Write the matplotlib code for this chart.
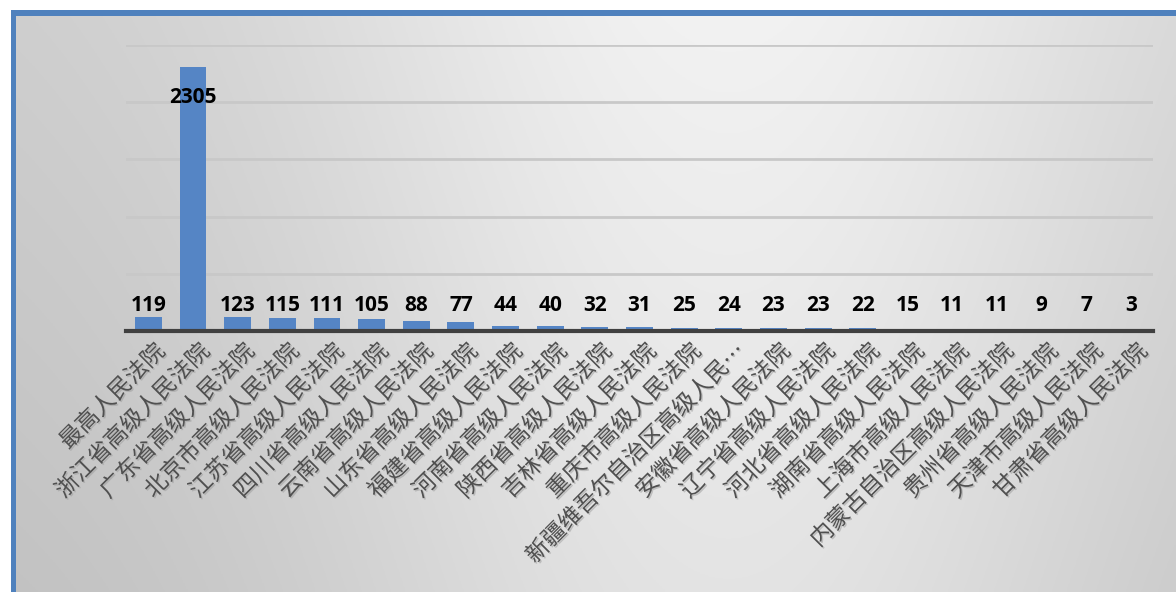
import numpy as np
import matplotlib
matplotlib.use("Agg")
import matplotlib.pyplot as plt
import matplotlib.patheffects as pe
from matplotlib.patches import Rectangle

# ── données ──────────────────────────────
courts = ["最高人民法院", "浙江省高级人民法院", "广东省高级人民法院", "北京市高级人民法院",
          "江苏省高级人民法院", "四川省高级人民法院", "云南省高级人民法院", "山东省高级人民法院",
          "福建省高级人民法院", "河南省高级人民法院", "陕西省高级人民法院", "吉林省高级人民法院",
          "重庆市高级人民法院", "新疆维吾尔自治区高级人民…", "安徽省高级人民法院", "辽宁省高级人民法院",
          "河北省高级人民法院", "湖南省高级人民法院", "上海市高级人民法院", "内蒙古自治区高级人民法院",
          "贵州省高级人民法院", "天津市高级人民法院", "甘肃省高级人民法院"]
counts = [119, 2305, 123, 115, 111, 105, 88, 77, 44, 40, 32, 31,
          25, 24, 23, 23, 22, 15, 11, 11, 9, 7, 3]
yticks = [0, 500, 1000, 1500, 2000, 2500]

W, H = 1176, 592
fig = plt.figure(figsize=(W / 100, H / 100), dpi=100)
fig.patch.set_facecolor("white")

# fond dégradé gris
bg = fig.add_axes([0, 0, 1, 1], zorder=-5)
xs = np.linspace(0, 1, 400)
ys = np.linspace(0, 1, 200)
X, Y = np.meshgrid(xs, ys)
horiz = 0.80 + 0.15 * np.exp(-((X - 0.62) / 0.38) ** 2)
vert = 1.0 - 0.06 * Y
grad = np.clip(horiz * vert, 0, 1)
bg.imshow(np.dstack([grad, grad, grad]), extent=[0, 1, 0, 1], aspect="auto", origin="upper")
bg.set_xlim(0, 1)
bg.set_ylim(0, 1)
bg.axis("off")
# cadre bleu
bg.add_patch(Rectangle((0, 0), 14 / W, 1 - 10 / H, color="white", lw=0, zorder=3))
bg.add_patch(Rectangle((0, 1 - 10 / H), 1, 10 / H, color="white", lw=0, zorder=3))
bg.add_patch(Rectangle((11 / W, 0), 5 / W, 1 - 10 / H, color="#4f81bd", lw=0, zorder=4))
bg.add_patch(Rectangle((11 / W, 1 - 16 / H), 1, 6 / H, color="#4f81bd", lw=0, zorder=4))

# ── graphique ────────────────────────────
ax = fig.add_axes([126 / W, 1 - 331 / H, (1153 - 126) / W, (331 - 45) / H])
ax.set_facecolor("none")
x = np.arange(len(courts))
ax.bar(x, counts, width=0.6, color="#5585c5", zorder=3)
ax.set_xlim(-0.5, len(courts) - 0.5)
ax.set_ylim(0, 2500)
ax.set_yticks(yticks)
ax.yaxis.grid(True, color="#c8c8c8", lw=2, zorder=0)
ax.tick_params(axis="y", length=0, labelleft=False)
ax.set_xticks(x)
ax.tick_params(axis="x", length=0, labelbottom=False)
for s in ["top", "right", "left"]:
    ax.spines[s].set_visible(False)
ax.spines["bottom"].set_color("#404040")
ax.spines["bottom"].set_linewidth(3)
ax.spines["bottom"].set_zorder(4)

# étiquettes de catégories (45°)
shadow = [pe.withSimplePatchShadow(offset=(1, -1), shadow_rgbFace="#9a9a9a", alpha=0.5)]
for xi, name in zip(x, courts):
    ax.annotate(name, xy=(xi, 0), xycoords=("data", "axes fraction"),
                xytext=(13, -17), textcoords="offset pixels",
                rotation=45, ha="right", va="center", rotation_mode="anchor",
                fontsize=16.6, color="#505050", family=["Noto Sans CJK SC", "DejaVu Sans"],
                path_effects=shadow, annotation_clip=False)

# étiquettes de valeurs
for xi, v in zip(x, counts):
    yl = v - 264 if v > 1000 else 223
    ax.text(xi, yl, str(v), ha="center", va="center", fontsize=15, fontweight="bold",
            family="Open Sans", color="black", zorder=5)

plt.savefig("out.png", dpi=100)
